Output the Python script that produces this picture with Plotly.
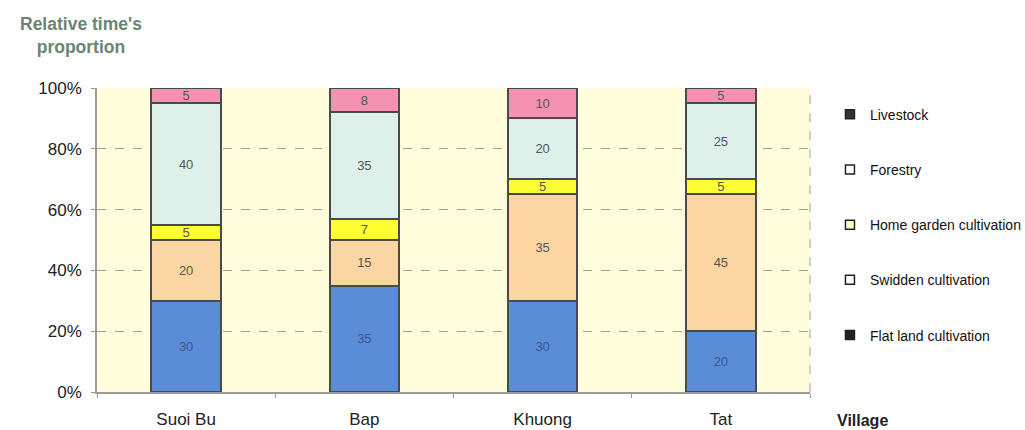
import plotly.graph_objects as go

villages = ["Suoi Bu", "Bap", "Khuong", "Tat"]
flat_land = [30, 35, 30, 20]
swidden = [20, 15, 35, 45]
home_garden = [5, 7, 5, 5]
forestry = [40, 35, 20, 25]
livestock = [5, 8, 10, 5]

series = [
    ("Flat land cultivation", flat_land, "#5B8CD8", "#3C5590"),
    ("Swidden cultivation", swidden, "#FCD6A2", "#555555"),
    ("Home garden cultivation", home_garden, "#FFFF33", "#555555"),
    ("Forestry", forestry, "#DDF1EA", "#555555"),
    ("Livestock", livestock, "#F592B2", "#555555"),
]
# legend swatch colours as they appear in the reference legend
legend_swatch = {
    "Flat land cultivation": ("#222222", "#222222"),
    "Swidden cultivation": ("#FFFFFF", "#222222"),
    "Home garden cultivation": ("#FFFFC8", "#222222"),
    "Forestry": ("#FFFFFF", "#222222"),
    "Livestock": ("#333333", "#222222"),
}

fig = go.Figure()
for name, vals, col, tcol in series:
    fig.add_trace(go.Bar(
        x=villages, y=vals, name=name, showlegend=False,
        marker=dict(color=col, line=dict(color="#4A4A4A", width=2)),
        width=0.39,
        text=[str(v) for v in vals], textposition="inside",
        insidetextanchor="middle", textangle=0,
        textfont=dict(color=tcol, size=13, family="Arial, Liberation Sans"),
        constraintext="none",
    ))

for name, vals, col, tcol in reversed(series):
    fc, lc = legend_swatch[name]
    fig.add_trace(go.Scatter(
        x=[None], y=[None], mode="markers", name=name,
        legendgroup=name,
        marker=dict(symbol="square", size=9, color=fc, line=dict(color=lc, width=1.5)),
        showlegend=True,
    ))

fig.update_layout(
    width=1025, height=430,
    barmode="stack",
    bargap=0.61,
    paper_bgcolor="white",
    plot_bgcolor="#FFFDDC",
    margin=dict(l=97, r=215, t=88, b=38, autoexpand=False),
    font=dict(family="Arial, Liberation Sans", color="#222222"),
    legend=dict(
        x=1.028, y=0.965, xanchor="left", yanchor="top",
        traceorder="grouped", tracegroupgap=34,
        font=dict(size=14, family="Liberation Sans Narrow, Arial Narrow, Arial", color="#111111"),
        itemwidth=30, bgcolor="rgba(0,0,0,0)",
    ),
    xaxis=dict(
        showgrid=False, showline=True, linecolor="#9A9A9A", linewidth=1.5,
        ticks="outside", tickson="boundaries", ticklen=4, tickcolor="#9A9A9A",
        tickfont=dict(size=17, color="#222222"), ticklabelstandoff=11,
        automargin=False,
    ),
    yaxis=dict(
        range=[0, 100], dtick=20, ticksuffix="%",
        showgrid=True, gridcolor="#A0A09A", griddash="dash", gridwidth=1,
        showline=True, linecolor="#9A9A9A", linewidth=1.5,
        ticks="outside", ticklen=4, tickcolor="#9A9A9A",
        tickfont=dict(size=17, color="#222222"), ticklabelstandoff=6,
        zeroline=False, automargin=False,
    ),
    shapes=[
        dict(type="line", xref="paper", yref="paper", x0=1, x1=1, y0=0, y1=1,
             line=dict(color="#A0A09A", width=1, dash="dash")),
    ],
    annotations=[
        dict(text="<b>Relative time's<br>proportion</b>", xref="paper", yref="paper",
             x=-0.0224, y=1.0, xanchor="center", yanchor="bottom", yshift=29,
             showarrow=False, align="center",
             font=dict(size=17.5, color="#6C8476", family="Arial, Liberation Sans")),
        dict(text="<b>Village</b>", xref="paper", yref="paper",
             x=1.035, y=0, xanchor="left", yanchor="top", yshift=-18,
             showarrow=False, font=dict(size=16, color="#222222")),
    ],
)

fig.write_html("out.html")
